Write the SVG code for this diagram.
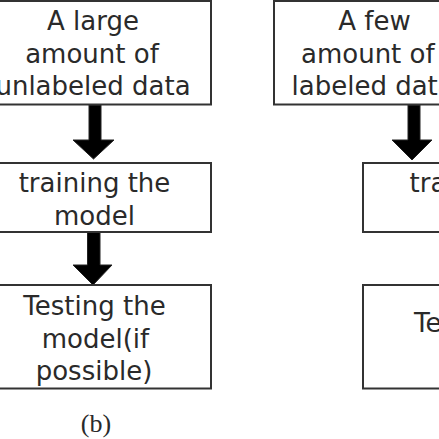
<svg xmlns="http://www.w3.org/2000/svg" width="439" height="439" viewBox="0 0 439 439">
<style>
.box{fill:#fff;stroke:#333;stroke-width:2}
.t{font-family:"DejaVu Sans",sans-serif;font-size:26px;fill:#2a2a2a}
.c{text-anchor:middle}
.arr{fill:#000;stroke:#222;stroke-width:1}
.cap{font-family:"Liberation Serif",serif;font-size:26px;fill:#2a2a2a;text-anchor:middle}
</style>
<rect width="439" height="439" fill="#fff"/>
<g id="connectors">
<polygon class="arr" points="89,105 101,105 101,140 114,140 93.5,159 73,140 89,140"/>
<polygon class="arr" points="87.5,232 100,232 100,265 112,265 93,285 73,265 87.5,265"/>
<polygon class="arr" points="408,105 420,105 420,140 432,140 412,160 392,140 408,140"/>
</g>
<g id="left-data">
<rect class="box" x="-25" y="1" width="236" height="103.5"/>
<text class="t c" x="93" y="29.5">A large</text>
<text class="t c" x="92" y="62.5">amount of</text>
<text class="t c" x="93" y="95">unlabeled data</text>
</g>
<g id="left-train">
<rect class="box" x="-25" y="163" width="236" height="69"/>
<text class="t c" x="94.5" y="191.5">training the</text>
<text class="t c" x="94.5" y="225">model</text>
</g>
<g id="left-test">
<rect class="box" x="-25" y="285" width="236" height="103.5"/>
<text class="t c" x="94.5" y="315">Testing the</text>
<text class="t c" x="95.5" y="347.5">model(if</text>
<text class="t c" x="94" y="380">possible)</text>
</g>
<g id="right-data">
<rect class="box" x="274" y="1" width="250" height="103.5"/>
<text class="t c" x="374.5" y="29.5">A few</text>
<text class="t" x="301" y="62.5">amount of</text>
<text class="t" x="291.5" y="95">labeled data</text>
</g>
<g id="right-train">
<rect class="box" x="363" y="163" width="250" height="69"/>
<text class="t" x="409.5" y="191.5">training the</text>
</g>
<g id="right-test">
<rect class="box" x="363" y="285" width="250" height="103.5"/>
<text class="t" x="414" y="332">Testing the</text>
</g>
<text class="cap" x="96" y="432">(b)</text>
</svg>
